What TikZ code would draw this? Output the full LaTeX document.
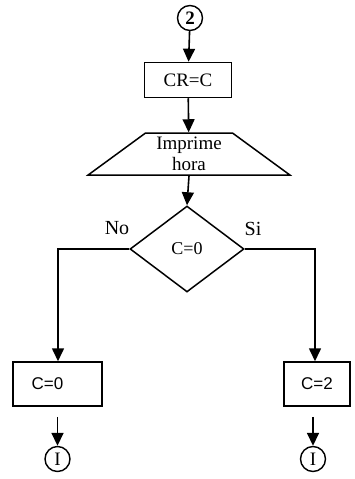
\documentclass[tikz,border=0pt]{standalone}
\usepackage{fontspec}
\setmainfont{Liberation Serif}
\newfontfamily\boxfont{Liberation Sans}
\usetikzlibrary{shapes.geometric, positioning, arrows.meta}

\begin{document}
\begin{tikzpicture}[
        x=1pt, y=1pt,
        flow/.style={line width=1.6pt, -{Triangle[width=12pt, length=13pt]}},
        connector/.style={draw, circle, line width=1.4pt, minimum size=25pt, inner sep=0pt, font=\fontsize{19}{19}\selectfont},
        process/.style={draw, rectangle, line width=1.5pt, font=\fontsize{19}{19}\selectfont},
        output/.style={draw, trapezium, trapezium left angle=38, trapezium right angle=38, trapezium stretches=true, line width=1.5pt, minimum width=202pt, minimum height=42pt, inner sep=0pt, align=center, font=\fontsize{19}{21}\selectfont},
        decision/.style={draw, diamond, line width=1.5pt, minimum width=114pt, minimum height=86pt, inner sep=0pt, font=\fontsize{18}{18}\selectfont},
        branch/.style={font=\fontsize{20}{20}\selectfont}
      ]
        \useasboundingbox (0,0) rectangle (354,-479);
        \node[connector, font=\fontsize{19}{19}\selectfont\bfseries] (start) at (190,-18) {2};
        \node[process, minimum width=87pt, minimum height=35pt] (copy) at (188,-80) {CR=C};
        \node[output] (print) at (189,-154) {Imprime\\hora};
        \node[decision] (test) at (187,-249) {C=0};
        \node[process, minimum width=89pt, minimum height=44pt, font=\boxfont\fontsize{17}{17}\selectfont] (setzero) at (57.5,-384) {\hspace*{-20pt}C=0};
        \node[process, minimum width=66pt, minimum height=44pt, font=\boxfont\fontsize{17}{17}\selectfont] (settwo) at (317,-384) {C=2};
        \node[connector] (endleft) at (57.5,-459) {I};
        \node[connector] (endright) at (313,-459) {I};
        \coordinate (nocorner) at (58,-249);
        \coordinate (sicorner) at (315,-249);

        \node[branch] (nolabel) at (117,-228) {No};
        \node[branch] (silabel) at (253,-229) {Si};

        \draw[flow] (start) -- (copy);
        \draw[flow] (copy) -- (print);
        \draw[flow] (print.south) -- (test.north);
        \draw[flow] (test.west) -- (nocorner) -- (nocorner |- setzero.north);
        \draw[flow] (test.east) -- (sicorner) -- (sicorner |- settwo.north);
        \draw[flow, shorten <=10pt] (setzero) -- (endleft);
        \draw[flow, shorten <=10pt] (settwo.south -| endright) -- (endright);
      \end{tikzpicture}
\end{document}
